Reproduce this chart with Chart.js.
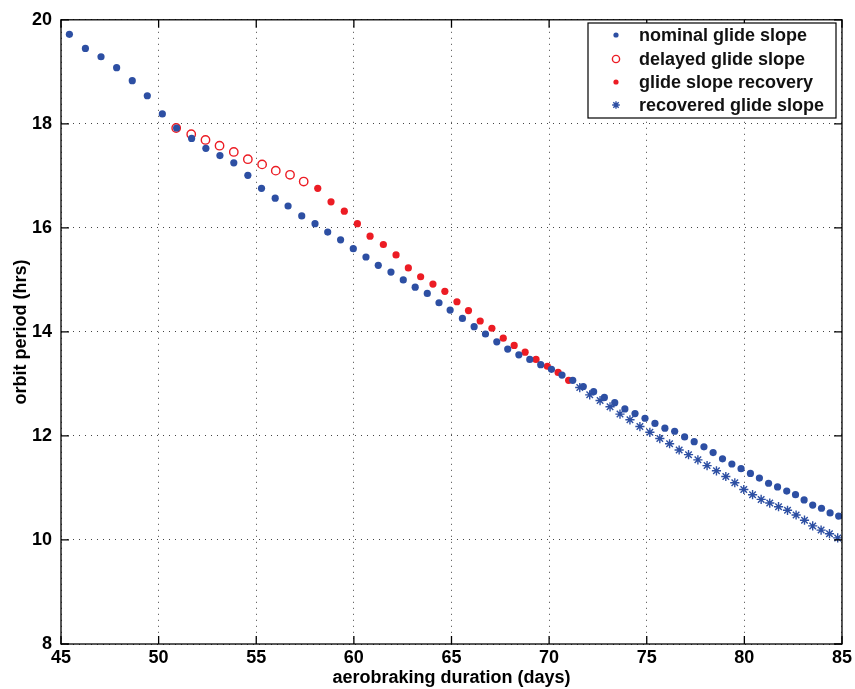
<!DOCTYPE html>
<html>
<head>
<meta charset="utf-8">
<script src="https://cdn.jsdelivr.net/npm/chart.js@4.4.0/dist/chart.umd.min.js"></script>
<style>
  html, body { margin: 0; padding: 0; background: #fff; }
  canvas { display: block; }
</style>
</head>
<body>
<canvas id="chart" width="855" height="689"></canvas>
<script>
// --- data ---
const xTicks = [45, 50, 55, 60, 65, 70, 75, 80, 85];
const yTicks = [8, 10, 12, 14, 16, 18, 20];

const nominalDays = [45.43, 46.25, 47.05, 47.85, 48.65, 49.42, 50.19, 50.92, 51.69, 52.42,
  53.14, 53.85, 54.57, 55.27, 55.97, 56.63, 57.33, 58.01, 58.66, 59.32,
  59.97, 60.62, 61.25, 61.90, 62.53, 63.14, 63.76, 64.36, 64.93, 65.56,
  66.16, 66.74, 67.32, 67.88, 68.45, 69.01, 69.57, 70.12, 70.66, 71.21,
  71.75, 72.28, 72.83, 73.36, 73.88, 74.40, 74.91, 75.42, 75.93, 76.43,
  76.94, 77.43, 77.93, 78.40, 78.88, 79.36, 79.83, 80.31, 80.77, 81.24,
  81.70, 82.17, 82.62, 83.06, 83.50, 83.95, 84.39, 84.83];
const nominalHrs = [19.72, 19.45, 19.29, 19.08, 18.83, 18.54, 18.19, 17.92, 17.72, 17.53,
  17.39, 17.25, 17.01, 16.76, 16.57, 16.42, 16.23, 16.08, 15.92, 15.77,
  15.60, 15.44, 15.28, 15.15, 15.00, 14.86, 14.74, 14.56, 14.42, 14.26,
  14.10, 13.96, 13.81, 13.67, 13.56, 13.47, 13.37, 13.28, 13.17, 13.07,
  12.95, 12.85, 12.74, 12.64, 12.52, 12.43, 12.34, 12.24, 12.15, 12.09,
  11.98, 11.89, 11.79, 11.68, 11.56, 11.46, 11.37, 11.28, 11.19, 11.09,
  11.02, 10.94, 10.87, 10.77, 10.67, 10.61, 10.52, 10.46];

const delayedDays = [50.90, 51.67, 52.40, 53.12, 53.85, 54.57, 55.30, 56.00, 56.73, 57.43];
const delayedHrs = [17.92, 17.80, 17.69, 17.58, 17.46, 17.32, 17.22, 17.10, 17.02, 16.89];

const recoveryDays = [58.15, 58.83, 59.51, 60.18, 60.83, 61.51, 62.16, 62.79, 63.42, 64.05,
  64.66, 65.28, 65.87, 66.47, 67.07, 67.65, 68.21, 68.77, 69.33, 69.91, 70.46, 71.00];
const recoveryHrs = [16.76, 16.50, 16.32, 16.08, 15.84, 15.68, 15.48, 15.23, 15.06, 14.92,
  14.78, 14.58, 14.41, 14.21, 14.07, 13.88, 13.74, 13.61, 13.47, 13.34, 13.22, 13.07];

const recoveredDays = [71.57, 72.08, 72.61, 73.12, 73.63, 74.14, 74.65, 75.16, 75.67, 76.17,
  76.66, 77.14, 77.62, 78.09, 78.57, 79.05, 79.51, 79.97, 80.42, 80.86,
  81.30, 81.75, 82.21, 82.65, 83.08, 83.50, 83.93, 84.36, 84.78];
const recoveredHrs = [12.93, 12.79, 12.68, 12.56, 12.42, 12.31, 12.18, 12.07, 11.95, 11.85,
  11.73, 11.64, 11.54, 11.43, 11.33, 11.22, 11.10, 10.97, 10.87, 10.78,
  10.71, 10.64, 10.57, 10.48, 10.38, 10.27, 10.19, 10.12, 10.04];

const BLUE = '#2d4fa3';
const RED = '#ec1c24';
const FONT = '"Liberation Sans", Arial, sans-serif';

const pts = (xs, ys) => xs.map((x, i) => ({ x: x, y: ys[i] }));

const seriesList = [
  { label: 'nominal glide slope', data: pts(nominalDays, nominalHrs),
    pointStyle: 'circle', pointRadius: 3.6, backgroundColor: BLUE, borderColor: BLUE, borderWidth: 0,
    legendRadius: 2.6 },
  { label: 'delayed glide slope', data: pts(delayedDays, delayedHrs),
    pointStyle: 'circle', pointRadius: 4.2, backgroundColor: 'rgba(0,0,0,0)', borderColor: RED, borderWidth: 1.4,
    legendRadius: 3.6 },
  { label: 'glide slope recovery', data: pts(recoveryDays, recoveryHrs),
    pointStyle: 'circle', pointRadius: 3.6, backgroundColor: RED, borderColor: RED, borderWidth: 0,
    legendRadius: 2.6 },
  { label: 'recovered glide slope', data: pts(recoveredDays, recoveredHrs),
    pointStyle: 'star', pointRadius: 4.6, backgroundColor: BLUE, borderColor: BLUE, borderWidth: 1.4,
    legendRadius: 3.8 }
];

// box, inward tick marks and the legend box in the upper right
const framePlugin = {
  id: 'frame',
  afterDraw(chart) {
    const ctx = chart.ctx;
    const a = chart.chartArea;
    const xs = chart.scales.x, ys = chart.scales.y;
    ctx.save();
    ctx.strokeStyle = '#000';
    ctx.lineWidth = 1.3;
    ctx.strokeRect(a.left, a.top, a.right - a.left, a.bottom - a.top);
    ctx.beginPath();
    xTicks.forEach(v => {
      const px = xs.getPixelForValue(v);
      ctx.moveTo(px, a.bottom); ctx.lineTo(px, a.bottom - 8);
      ctx.moveTo(px, a.top); ctx.lineTo(px, a.top + 8);
    });
    yTicks.forEach(v => {
      const py = ys.getPixelForValue(v);
      ctx.moveTo(a.left, py); ctx.lineTo(a.left + 8, py);
      ctx.moveTo(a.right, py); ctx.lineTo(a.right - 8, py);
    });
    ctx.stroke();

    // legend
    const lx = 588, ly = 23, lw = 248, lh = 95;
    ctx.fillStyle = '#fff';
    ctx.fillRect(lx, ly, lw, lh);
    ctx.lineWidth = 1.2;
    ctx.strokeStyle = '#000';
    ctx.strokeRect(lx, ly, lw, lh);
    const rowY = [35, 59, 82, 105];
    chart.data.datasets.forEach((ds, i) => {
      const y = rowY[i];
      ctx.save();
      ctx.fillStyle = ds.backgroundColor;
      ctx.strokeStyle = ds.borderColor;
      ctx.lineWidth = ds.borderWidth;
      Chart.helpers.drawPoint(ctx, {
        pointStyle: ds.pointStyle, radius: ds.legendRadius, rotation: 0,
        borderWidth: ds.borderWidth
      }, 616, y);
      ctx.restore();
      ctx.font = 'bold 18px ' + FONT;
      ctx.textBaseline = 'middle';
      ctx.textAlign = 'left';
      ctx.fillStyle = '#111';
      ctx.fillText(ds.label, 639, y + 1);
    });
    ctx.restore();
  }
};

new Chart(document.getElementById('chart').getContext('2d'), {
  type: 'scatter',
  data: { datasets: seriesList },
  options: {
    responsive: false,
    animation: false,
    devicePixelRatio: 1,
    layout: { padding: { top: 16, right: 12, left: 0, bottom: 0 } },
    plugins: { legend: { display: false }, tooltip: { enabled: false } },
    scales: {
      x: {
        type: 'linear', min: 45, max: 85,
        afterBuildTicks: s => { s.ticks = xTicks.map(v => ({ value: v })); },
        afterFit: s => { s.height = 45; },
        ticks: { color: '#000', padding: 3, font: { family: FONT, size: 18, weight: 'bold' } },
        grid: { color: '#444', lineWidth: 1, drawTicks: false },
        border: { display: false, dash: [1, 5] },
        title: { display: true, text: 'aerobraking duration (days)', color: '#000',
          padding: { top: 0, bottom: 0 }, font: { family: FONT, size: 18, weight: 'bold' } }
      },
      y: {
        type: 'linear', min: 8, max: 20,
        afterBuildTicks: s => { s.ticks = yTicks.map(v => ({ value: v })); },
        afterFit: s => { s.width = 61; },
        ticks: { color: '#000', padding: 9, font: { family: FONT, size: 18, weight: 'bold' } },
        grid: { color: '#444', lineWidth: 1, drawTicks: false },
        border: { display: false, dash: [1, 5] },
        title: { display: true, text: 'orbit period (hrs)', color: '#000',
          padding: { top: 10, bottom: 0 }, font: { family: FONT, size: 18, weight: 'bold' } }
      }
    }
  },
  plugins: [framePlugin]
});
</script>
</body>
</html>
